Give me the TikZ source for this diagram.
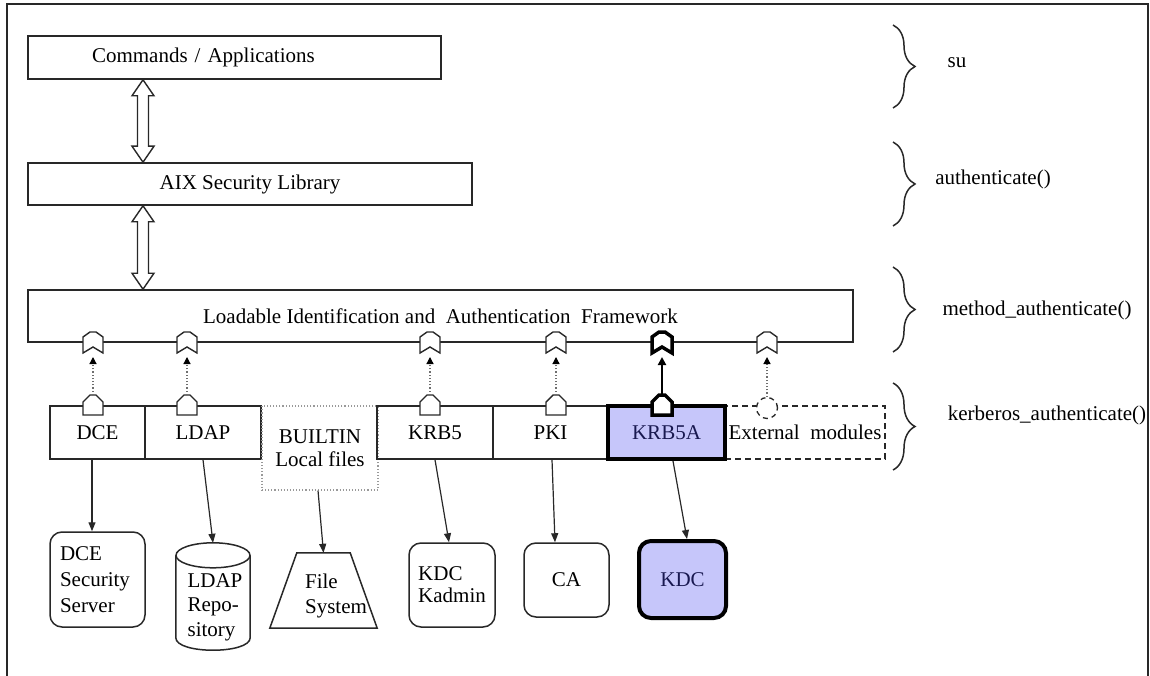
\documentclass[tikz,border=0pt]{standalone}
\usepackage{fontspec}
\setmainfont{Liberation Serif}
\usetikzlibrary{arrows.meta,calc,decorations.pathreplacing}
\definecolor{linec}{RGB}{40,40,40}
\definecolor{lav}{RGB}{198,198,250}
\definecolor{navy}{RGB}{25,25,80}
\definecolor{dotc}{RGB}{110,110,110}
\newcommand\hollowdbl[2]{%
  \draw[dblarrow] let \p1=(#1), \p2=(#2) in
    (\x1,\y1) -- ++(11pt,-16pt) -- ++(-5.5pt,0pt) -- ({\x1+5.5pt},{\y2+16pt}) -- ++(5.5pt,0pt)
    -- (\x2,\y2) -- ++(-11pt,16pt) -- ++(5.5pt,0pt) -- ({\x1-5.5pt},{\y1-16pt}) -- ++(-5.5pt,0pt) -- cycle;}
\begin{document}
\begin{tikzpicture}[x=1pt,y=-1pt,
  every node/.style={font=\fontsize{21}{25}\selectfont, inner sep=0pt},
  layer/.style={draw=linec, line width=1.6pt},
  module/.style={draw=linec, line width=1.5pt, minimum height=53},
  hl/.style={line width=4pt, draw=black, fill=lav, text=navy},
  builtinbox/.style={draw=dotc!70, line width=1.1pt, dotted, minimum height=84, align=center,
     font=\fontsize{21}{23}\selectfont},
  extbox/.style={draw=linec, line width=1.3pt, dash pattern=on 6pt off 4pt, minimum height=53},
  server/.style={draw=linec, line width=1.5pt, rounded corners=12pt},
  shapeline/.style={draw=linec, line width=1.5pt},
  conn/.style={draw=linec, line width=1.2pt, -{Triangle[length=9pt,width=7pt]}},
  dotarrow/.style={draw=dotc, line width=1.2pt, dotted, -{Triangle[length=7pt,width=7pt,black]}},
  solidarrow/.style={draw=black, line width=2.5pt, -{Triangle[length=8pt,width=8pt]}},
  dblarrow/.style={draw=linec, line width=1.4pt, fill=white},
  bracestyle/.style={draw=linec, line width=1.5pt, decorate, decoration={brace, amplitude=22pt}},
  frame/.style={draw=linec, line width=2pt},
  jointline/.style={draw=linec, line width=1.4pt, fill=white},
  boldjoint/.style={jointline/.append style={draw=black, line width=3.5pt}},
  socket/.pic={\draw[jointline]
     (-10,-6) -- (-3,-11) -- (3,-11) -- (10,-6) -- (10,10) -- (0,4) -- (-10,10) -- cycle;
     \coordinate (-tip) at (0,14);},
  plug/.pic={\draw[jointline]
     (-10,9) -- (-10,-4) -- (-3,-11) -- (3,-11) -- (10,-4) -- (10,9) -- cycle;
     \coordinate (-top) at (0,-11);}
]
\useasboundingbox (0,0) rectangle (1150,676);
\fill[white] (0,0) rectangle (1150,676);
\draw[frame] (7,690) -- (7,4) -- (1148,4) -- (1148,690);

% layers
\node[layer, minimum width=413, minimum height=43, text width=285, inner xsep=64pt, align=left] (cmd) at (234.5,57.5) {Commands / Applications};
\node[layer, minimum width=444, minimum height=42] (aix) at (250,184) {AIX Security Library};
\node[layer, minimum width=825, minimum height=52] (liaf) at (440.5,316) {Loadable Identification and~~Authentication~~Framework};

\coordinate (colA) at (143,0);
\hollowdbl{cmd.south -| colA}{aix.north -| colA}
\hollowdbl{aix.south -| colA}{liaf.north -| colA}

% sockets
\pic (s1) at (93,343) {socket};
\pic (s2) at (187,343) {socket};
\pic (s3) at (430,343) {socket};
\pic (s4) at (556,343) {socket};
\pic[boldjoint] (s5) at (662,343) {socket};
\pic (s6) at (767,343) {socket};

% modules
\node[module, minimum width=95] (dce) at (97.5,432.5) {DCE};
\node[module, minimum width=116] (ldap) at (203,432.5) {LDAP};
\node[builtinbox, minimum width=116] (builtin) at (320,448) {BUILTIN\\Local files};
\node[module, minimum width=116] (krb5) at (435,432.5) {KRB5};
\node[module, minimum width=115] (pki) at (550.5,432.5) {PKI};
\node[extbox, minimum width=160] (ext) at (805,432.5) {External~~modules};
\node[module, hl, minimum width=117] (krb5a) at (666.5,432.5) {KRB5A};

% plugs
\pic (p1) at (93,406) {plug};
\pic (p2) at (187,406) {plug};
\pic (p3) at (430,406) {plug};
\pic (p4) at (556,406) {plug};
\pic[boldjoint] (p5) at (662,406) {plug};
\node[circle, draw=linec, line width=1.3pt, dash pattern=on 5pt off 4pt, fill=white, minimum size=21] (extplug) at (767,408) {};

\draw[dotarrow] (p1-top) -- (s1-tip);
\draw[dotarrow] (p2-top) -- (s2-tip);
\draw[dotarrow] (p3-top) -- (s3-tip);
\draw[dotarrow] (p4-top) -- (s4-tip);
\draw[solidarrow] (p5-top) -- (s5-tip);
\draw[dotarrow] (extplug.north) -- (s6-tip);

% back-end nodes
\node[server, minimum width=95, minimum height=95, text width=75, inner xsep=10pt, align=left,
      font=\fontsize{21}{26}\selectfont] (dcess) at (97.5,579.5) {DCE\\Security\\Server};
\node[minimum width=74, minimum height=107] (ldaprepo) at (213,596.5) {};
\draw[shapeline] ([yshift=-12.5pt]ldaprepo.north west) -- ([yshift=12.5pt]ldaprepo.south west)
   .. controls +(0,16.7) and +(0,16.7) .. ([yshift=12.5pt]ldaprepo.south east)
   -- ([yshift=-12.5pt]ldaprepo.north east);
\draw[shapeline] ([yshift=-12.5pt]ldaprepo.north) ellipse [x radius=37, y radius=12.5];
\node[align=left, font=\fontsize{21}{24.5}\selectfont] (ldaptext) at (215,607) {LDAP\\Repo-\\sitory};

\node[minimum width=107, minimum height=75] (fsys) at (323.5,590.5) {};
\draw[shapeline] (fsys.south west) -- (fsys.south east) -- ([xshift=-27pt]fsys.north east)
   -- ([xshift=27pt]fsys.north west) -- cycle;
\node[align=left] (fstext) at (336,596) {File\\System};

\node[server, minimum width=86, minimum height=84, align=left, font=\fontsize{21}{22}\selectfont] (kadmin) at (452,585) {KDC\\Kadmin};
\node[server, minimum width=85, minimum height=74] (ca) at (566.5,580) {CA};
\node[server, hl, minimum width=87, minimum height=77] (kdc) at (682.5,579.5) {KDC};

\draw[conn] ([xshift=-5.5pt]dce.south) -- ([xshift=-5.5pt]dcess.north);
\draw[conn] (ldap.south) -- (ldaprepo.north);
\draw[conn] ([xshift=-2pt]builtin.south) -- (fsys.north);
\draw[conn] (krb5.south) -- ([xshift=-3pt]kadmin.north);
\draw[conn] ([xshift=1.5pt]pki.south) -- ([xshift=-11.5pt]ca.north);
\draw[conn] ([xshift=6.5pt]krb5a.south) -- ([xshift=4.5pt]kdc.north);

% braces and function names
\coordinate (b1t) at (893,25);  \coordinate (b1b) at (893,108);
\coordinate (b2t) at (893,142); \coordinate (b2b) at (893,226);
\coordinate (b3t) at (893,267); \coordinate (b3b) at (893,352);
\coordinate (b4t) at (893,383); \coordinate (b4b) at (893,470);
\draw[bracestyle] (b1t) -- (b1b);
\draw[bracestyle] (b2t) -- (b2b);
\draw[bracestyle] (b3t) -- (b3b);
\draw[bracestyle] (b4t) -- (b4b);
\node (su) at (957,63) {su};
\node (auth) at (993,179) {authenticate()};
\node (mauth) at (1037,310) {method\_authenticate()};
\node (kauth) at (1047,415) {kerberos\_authenticate()};
\end{tikzpicture}
\end{document}
